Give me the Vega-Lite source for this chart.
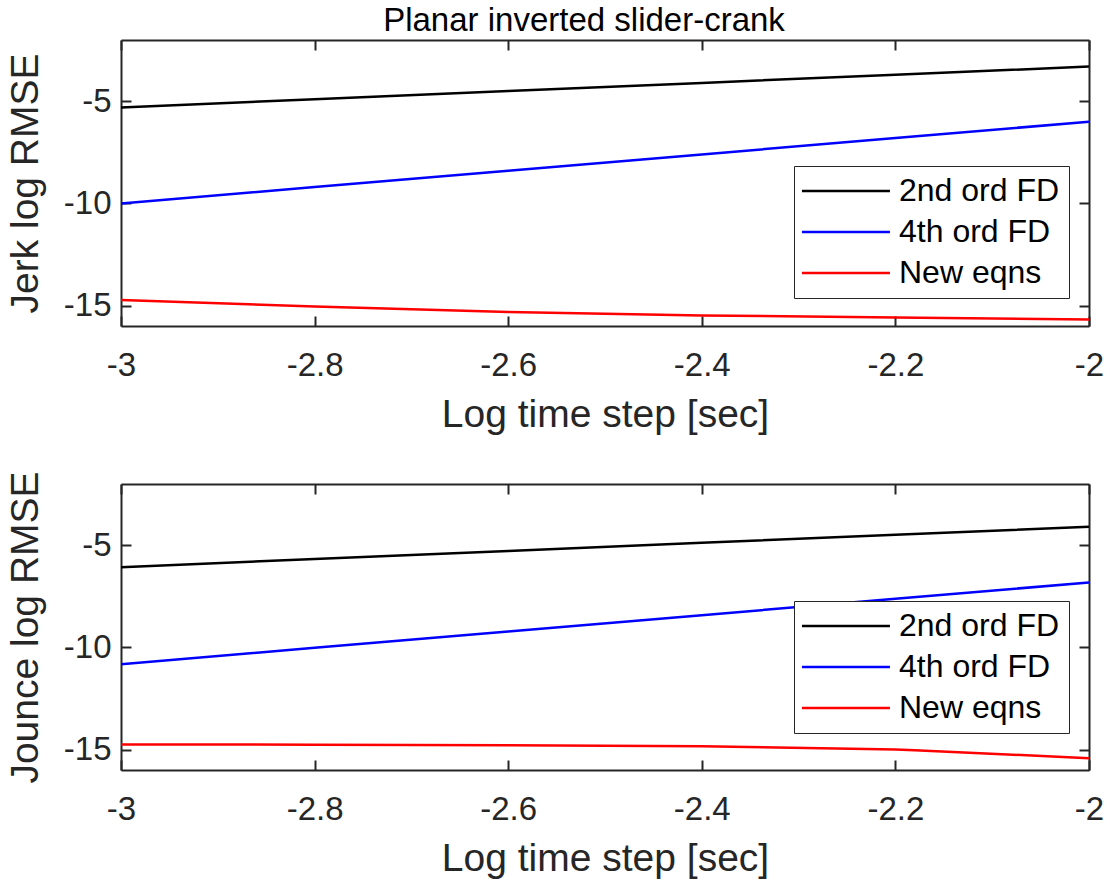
{
  "$schema": "https://vega.github.io/schema/vega-lite/v6.json",
  "background": "white",
  "padding": {"left": 6, "top": 5, "right": 5, "bottom": 5},
  "bounds": "flush",
  "spacing": 158,
  "config": {
    "font": "Liberation Sans",
    "view": {"stroke": null},
    "axis": {
      "grid": false,
      "domainColor": "#262626",
      "domainWidth": 2,
      "tickColor": "#262626",
      "tickWidth": 2,
      "tickSize": -10,
      "labelColor": "#262626",
      "titleColor": "#262626",
      "labelFontSize": 33,
      "titleFontSize": 39,
      "titleFontWeight": "normal",
      "labelFont": "Liberation Sans",
      "titleFont": "Liberation Sans",
      "labelPadding": 20,
      "labelFlush": false,
      "labelOverlap": false
    },
    "axisX": {"labelPadding": 33, "titlePadding": 13},
    "axisY": {"titlePadding": 18},
    "legend": {
      "orient": "none",
      "title": null,
      "symbolType": "M-1.55,0H6.45",
      "symbolSize": 484,
      "symbolStrokeWidth": 2.5,
      "labelFontSize": 32,
      "labelColor": "#000000",
      "labelFont": "Liberation Sans",
      "labelLimit": 0,
      "strokeColor": "#262626",
      "fillColor": "white",
      "padding": 9,
      "rowPadding": 9,
      "labelOffset": 64
    }
  },
  "datasets": {
    "jerk": [
      {"logdt": -3.0, "rmse": -5.3, "method": "2nd ord FD"},
      {"logdt": -2.8, "rmse": -4.9, "method": "2nd ord FD"},
      {"logdt": -2.6, "rmse": -4.5, "method": "2nd ord FD"},
      {"logdt": -2.4, "rmse": -4.1, "method": "2nd ord FD"},
      {"logdt": -2.2, "rmse": -3.7, "method": "2nd ord FD"},
      {"logdt": -2.0, "rmse": -3.3, "method": "2nd ord FD"},
      {"logdt": -3.0, "rmse": -10.0, "method": "4th ord FD"},
      {"logdt": -2.8, "rmse": -9.2, "method": "4th ord FD"},
      {"logdt": -2.6, "rmse": -8.4, "method": "4th ord FD"},
      {"logdt": -2.4, "rmse": -7.6, "method": "4th ord FD"},
      {"logdt": -2.2, "rmse": -6.8, "method": "4th ord FD"},
      {"logdt": -2.0, "rmse": -6.0, "method": "4th ord FD"},
      {"logdt": -3.0, "rmse": -14.73, "method": "New eqns"},
      {"logdt": -2.8, "rmse": -15.04, "method": "New eqns"},
      {"logdt": -2.6, "rmse": -15.32, "method": "New eqns"},
      {"logdt": -2.4, "rmse": -15.48, "method": "New eqns"},
      {"logdt": -2.2, "rmse": -15.59, "method": "New eqns"},
      {"logdt": -2.0, "rmse": -15.68, "method": "New eqns"}
    ],
    "jounce": [
      {"logdt": -3.0, "rmse": -6.07, "method": "2nd ord FD"},
      {"logdt": -2.8, "rmse": -5.67, "method": "2nd ord FD"},
      {"logdt": -2.6, "rmse": -5.28, "method": "2nd ord FD"},
      {"logdt": -2.4, "rmse": -4.88, "method": "2nd ord FD"},
      {"logdt": -2.2, "rmse": -4.49, "method": "2nd ord FD"},
      {"logdt": -2.0, "rmse": -4.09, "method": "2nd ord FD"},
      {"logdt": -3.0, "rmse": -10.82, "method": "4th ord FD"},
      {"logdt": -2.8, "rmse": -10.02, "method": "4th ord FD"},
      {"logdt": -2.6, "rmse": -9.22, "method": "4th ord FD"},
      {"logdt": -2.4, "rmse": -8.42, "method": "4th ord FD"},
      {"logdt": -2.2, "rmse": -7.62, "method": "4th ord FD"},
      {"logdt": -2.0, "rmse": -6.82, "method": "4th ord FD"},
      {"logdt": -3.0, "rmse": -14.75, "method": "New eqns"},
      {"logdt": -2.8, "rmse": -14.76, "method": "New eqns"},
      {"logdt": -2.6, "rmse": -14.79, "method": "New eqns"},
      {"logdt": -2.4, "rmse": -14.84, "method": "New eqns"},
      {"logdt": -2.2, "rmse": -15.0, "method": "New eqns"},
      {"logdt": -2.18, "rmse": -15.03, "method": "New eqns"},
      {"logdt": -2.0, "rmse": -15.42, "method": "New eqns"}
    ]
  },
  "vconcat": [
    {
      "width": 968,
      "height": 286,
      "title": {"text": "Planar inverted slider-crank", "fontSize": 33, "fontWeight": "normal", "color": "#000000", "anchor": "middle", "dx": -21, "offset": 1, "font": "Liberation Sans"},
      "data": {"name": "jerk"},
      "layer": [
        {
          "mark": {"type": "line", "strokeWidth": 2.5, "clip": true},
          "encoding": {
            "x": {"field": "logdt", "type": "quantitative", "scale": {"domain": [-3, -2], "nice": false, "zero": false},
                  "axis": {"values": [-3, -2.8, -2.6, -2.4, -2.2, -2], "title": "Log time step [sec]", "labelExpr": "replace(format(datum.value, '~g'), '\u2212', '-')"}},
            "y": {"field": "rmse", "type": "quantitative", "scale": {"domain": [-16, -2], "nice": false, "zero": false},
                  "axis": {"values": [-15, -10, -5], "title": "Jerk log RMSE", "labelExpr": "replace(format(datum.value, '~g'), '\u2212', '-')"}},
            "color": {"field": "method", "type": "nominal",
                      "scale": {"domain": ["2nd ord FD", "4th ord FD", "New eqns"], "range": ["#000000", "#0000ff", "#ff0000"]},
                      "legend": {"legendX": 673, "legendY": 126}}
          }
        },
        {
          "mark": {"type": "line", "strokeOpacity": 0},
          "encoding": {
            "x": {"field": "logdt", "type": "quantitative", "axis": {"orient": "top", "values": [-3, -2.8, -2.6, -2.4, -2.2, -2], "labels": false, "title": null}},
            "y": {"field": "rmse", "type": "quantitative", "axis": {"orient": "right", "values": [-15, -10, -5], "labels": false, "title": null}},
            "detail": {"field": "method"}
          }
        }
      ],
      "resolve": {"axis": {"x": "independent", "y": "independent"}}
    },
    {
      "width": 968,
      "height": 286,
      "data": {"name": "jounce"},
      "layer": [
        {
          "mark": {"type": "line", "strokeWidth": 2.5, "clip": true},
          "encoding": {
            "x": {"field": "logdt", "type": "quantitative", "scale": {"domain": [-3, -2], "nice": false, "zero": false},
                  "axis": {"values": [-3, -2.8, -2.6, -2.4, -2.2, -2], "title": "Log time step [sec]", "labelExpr": "replace(format(datum.value, '~g'), '\u2212', '-')"}},
            "y": {"field": "rmse", "type": "quantitative", "scale": {"domain": [-16, -2], "nice": false, "zero": false},
                  "axis": {"values": [-15, -10, -5], "title": "Jounce log RMSE", "labelExpr": "replace(format(datum.value, '~g'), '\u2212', '-')"}},
            "color": {"field": "method", "type": "nominal",
                      "scale": {"domain": ["2nd ord FD", "4th ord FD", "New eqns"], "range": ["#000000", "#0000ff", "#ff0000"]},
                      "legend": {"legendX": 673, "legendY": 117}}
          }
        },
        {
          "mark": {"type": "line", "strokeOpacity": 0},
          "encoding": {
            "x": {"field": "logdt", "type": "quantitative", "axis": {"orient": "top", "values": [-3, -2.8, -2.6, -2.4, -2.2, -2], "labels": false, "title": null}},
            "y": {"field": "rmse", "type": "quantitative", "axis": {"orient": "right", "values": [-15, -10, -5], "labels": false, "title": null}},
            "detail": {"field": "method"}
          }
        }
      ],
      "resolve": {"axis": {"x": "independent", "y": "independent"}}
    }
  ],
  "resolve": {"scale": {"color": "independent"}, "legend": {"color": "independent"}}
}
